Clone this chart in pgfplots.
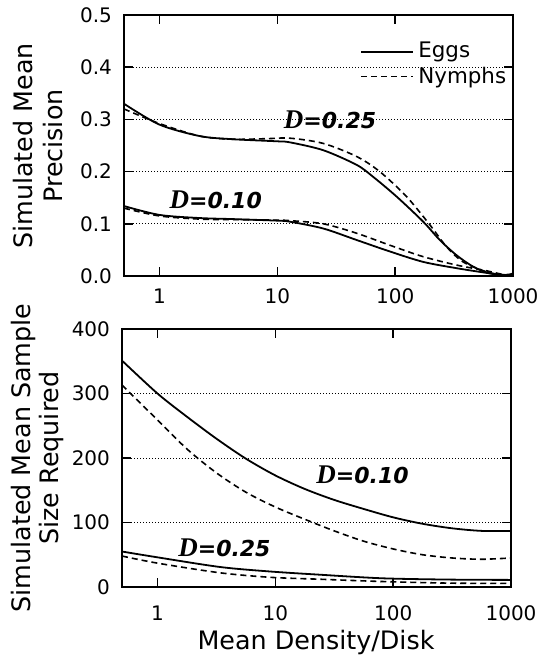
\documentclass[border=0pt]{standalone}
\usepackage{fontspec}
\setmainfont{DejaVu Sans}
\newfontfamily\serifD{Liberation Serif}
\usepackage{pgfplots}
\pgfplotsset{compat=1.18}

\pgfplotsset{
  mypanel/.style={
    scale only axis, width=194.5pt,
    xmin=0.5, xmax=1000,
    xtick={1,10,100,1000}, xticklabels={1,10,100,1000},
    xminorticks=false, yminorticks=false,
    tick align=inside, major tick length=4.5pt,
    ymajorgrids,
    major grid style={black, line width=0.5pt, dash pattern=on 0.6pt off 0.9pt},
    axis line style={line width=0.8pt},
    every tick/.style={black, line width=0.8pt},
    tick label style={font=\fontsize{10}{12}\selectfont},
    /pgf/number format/assume math mode=true,
    yticklabel style={xshift=-2.5pt},
  },
}
\tikzset{
  eggs/.style={black, line width=0.9pt, smooth, tension=0.5},
  nymphs/.style={black, line width=0.8pt, dash pattern=on 3pt off 2pt, smooth, tension=0.5},
  dlab/.style={font=\fontsize{11}{13}\selectfont\bfseries\itshape},
}
\newcommand{\DD}{{\serifD\fontsize{13.5}{13}\selectfont D}}

\begin{document}
\begin{tikzpicture}
\path[use as bounding box] (0,0) rectangle (269.5pt,-331pt);

% upper panel: precision
\begin{axis}[mypanel, xmode=log,
  at={(62pt,-7.5pt)}, anchor=north west, height=130.5pt,
  ymin=0, ymax=0.5, ytick={0,0.1,0.2,0.3,0.4,0.5},
  yticklabel style={/pgf/number format/fixed, /pgf/number format/fixed zerofill, /pgf/number format/precision=1},
  xticklabel style={yshift=-2.7pt},
  legend image code/.code={\draw[#1] (0pt,0pt) -- (26pt,0pt);},
  legend cell align=left,
  legend style={at={(0.607,0.912)}, anchor=north west, draw=none, fill=none,
    inner sep=0pt, row sep=-1pt, font=\fontsize{10.7}{12}\selectfont},
]
\addplot[eggs, mark=none] coordinates {
  (0.5,0.330) (1,0.290) (2.2,0.268) (4.2,0.262) (10,0.258) (12.8,0.256)
  (24.5,0.241) (47,0.213) (65,0.190) (103,0.152) (173,0.104) (239,0.069)
  (331,0.040) (458,0.018) (634,0.005) (879,0.002) (1000,0.005)
};
\addlegendentry{Eggs}
\addplot[nymphs, mark=none] coordinates {
  (0.5,0.320) (1,0.292) (2.2,0.268) (4.2,0.262) (8,0.263) (12.8,0.264)
  (24.5,0.254) (47,0.229) (74,0.200) (125,0.152) (197,0.098) (273,0.056)
  (377,0.027) (595,0.008) (823,0.002) (1000,0.002)
};
\addlegendentry{Nymphs}
\addplot[eggs, mark=none, forget plot] coordinates {
  (0.5,0.134) (1,0.117) (2.2,0.111) (4.2,0.109) (10,0.106) (12.8,0.104)
  (24.5,0.091) (47,0.069) (90,0.047) (173,0.027) (331,0.015) (595,0.006)
  (823,0.002) (1000,0.003)
};
\addplot[nymphs, mark=none, forget plot] coordinates {
  (0.5,0.130) (1,0.115) (2.2,0.109) (4.2,0.108) (10,0.107) (12.8,0.106)
  (24.5,0.100) (47,0.082) (90,0.059) (173,0.037) (331,0.021) (595,0.010)
  (823,0.003) (1000,0.003)
};
\node[dlab] at (axis cs:28,0.300) {\DD=0.25};
\node[dlab] at (axis cs:3,0.146) {\DD=0.10};
\end{axis}

% lower panel: sample size
\begin{axis}[mypanel, xmode=log,
  at={(61pt,-164.5pt)}, anchor=north west, height=129pt,
  ymin=0, ymax=400, ytick={0,100,200,300,400},
  xticklabel style={yshift=-5.7pt},
]
\addplot[eggs, mark=none] coordinates {
  (0.5,351) (1,300) (1.778,264) (3.162,230) (5.623,199) (10,173) (17.78,152)
  (31.62,135) (56.23,121) (100,108) (177.8,98) (316.2,91) (562.3,87) (1000,87)
};
\addplot[nymphs, mark=none] coordinates {
  (0.5,313) (1,259) (1.778,214) (3.162,177) (5.623,147) (10,124) (17.78,105)
  (31.62,87) (56.23,71) (100,59) (177.8,50) (316.2,45) (562.3,43) (1000,45)
};
\addplot[eggs, mark=none] coordinates {
  (0.5,55) (1,46) (3.4,31) (9.1,24) (24.2,19) (81,13.5) (300,11.5) (1000,11)
};
\addplot[nymphs, mark=none] coordinates {
  (0.5,48) (1,37) (3.4,22) (9.1,15) (24.2,12) (81,8.5) (300,6) (1000,5.5)
};
\node[dlab] at (axis cs:55,174) {\DD=0.10};
\node[dlab] at (axis cs:3.7,60) {\DD=0.25};
\end{axis}

\node[rotate=90, align=center, font=\fontsize{12.7}{15}\selectfont] at (19pt,-73pt) {Simulated Mean\\Precision};
\node[rotate=90, align=center, font=\fontsize{12.7}{14}\selectfont] at (18.5pt,-229pt) {Simulated Mean Sample\\Size Required};
\node[font=\fontsize{12.7}{15}\selectfont] at (158pt,-321pt) {Mean Density/Disk};
\end{tikzpicture}
\end{document}
